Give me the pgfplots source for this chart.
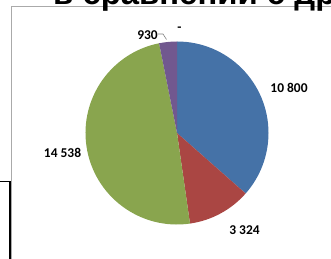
\documentclass[border=0pt]{standalone}
\usepackage{fontspec}
\setmainfont{Carlito}
\newfontfamily\titlefont{Liberation Sans}
\usepackage{pgfplots}
\pgfplotsset{compat=1.18}
\definecolor{pblue}{RGB}{69,114,167}
\definecolor{pred}{RGB}{170,70,67}
\definecolor{pgreen}{RGB}{137,165,78}
\definecolor{ppurple}{RGB}{113,88,143}
\definecolor{frame}{RGB}{170,170,170}
\begin{document}
\begin{tikzpicture}
% slice values
\def\vA{10800}\def\vB{3324}\def\vC{14538}\def\vD{930}\def\vE{0}
\pgfmathsetmacro\tot{\vA/100+\vB/100+\vC/100+\vD/100+\vE/100}
\pgfmathsetmacro\aO{90}
\pgfmathsetmacro\aA{\aO-((\vA/100)/\tot)*360}
\pgfmathsetmacro\aB{\aA-((\vB/100)/\tot)*360}
\pgfmathsetmacro\aC{\aB-((\vC/100)/\tot)*360}
\pgfmathsetmacro\aD{\aC-((\vD/100)/\tot)*360}
\useasboundingbox (0,0) rectangle (331bp,259bp);
\clip (0,0) rectangle (331bp,259bp);
\begin{axis}[at={(0,0)}, anchor=south west, width=331bp, height=259bp,
  scale only axis, xmin=0, xmax=331, ymin=0, ymax=259, hide axis, clip=false]
  % chart frame
  \draw[frame, line width=0.8bp] (axis cs:11,-5) -- (axis cs:11,253) -- (axis cs:345,253);
  % black box at bottom left
  \draw[black, line width=1.3bp] (axis cs:-5,77.5) -- (axis cs:10,77.5) -- (axis cs:10,-5);
  % pie
  \fill[pblue] (axis cs:177,126) -- ++(\aO:91.5bp) arc[start angle=\aO, end angle=\aA, radius=91.5bp] -- cycle;
  \fill[pred] (axis cs:177,126) -- ++(\aA:91.5bp) arc[start angle=\aA, end angle=\aB, radius=91.5bp] -- cycle;
  \fill[pgreen] (axis cs:177,126) -- ++(\aB:91.5bp) arc[start angle=\aB, end angle=\aC, radius=91.5bp] -- cycle;
  \fill[ppurple] (axis cs:177,126) -- ++(\aC:91.5bp) arc[start angle=\aC, end angle=\aD, radius=91.5bp] -- cycle;
  % labels
  \begin{scope}[every node/.style={font=\fontsize{13.5}{15}\selectfont\bfseries, inner sep=0pt}]
  \node at (axis cs:289,171.5) {10 800};
  \node at (axis cs:244.5,29.3) {3 324};
  \node at (axis cs:62.5,106) {14 538};
  \node at (axis cs:147.5,223.7) {930};
  \node at (axis cs:179.5,229.5) {-};
  \end{scope}
  \draw[gray, line width=0.6bp] (axis cs:158,225) -- (axis cs:163,225) -- (axis cs:166.5,219.5);
  % title (cut off at the top)
  \node[anchor=base west, inner sep=0pt, font=\titlefont\bfseries\fontsize{33}{38}\selectfont] at (axis cs:53,254) {в сравнении с другими};
\end{axis}
\end{tikzpicture}
\end{document}
